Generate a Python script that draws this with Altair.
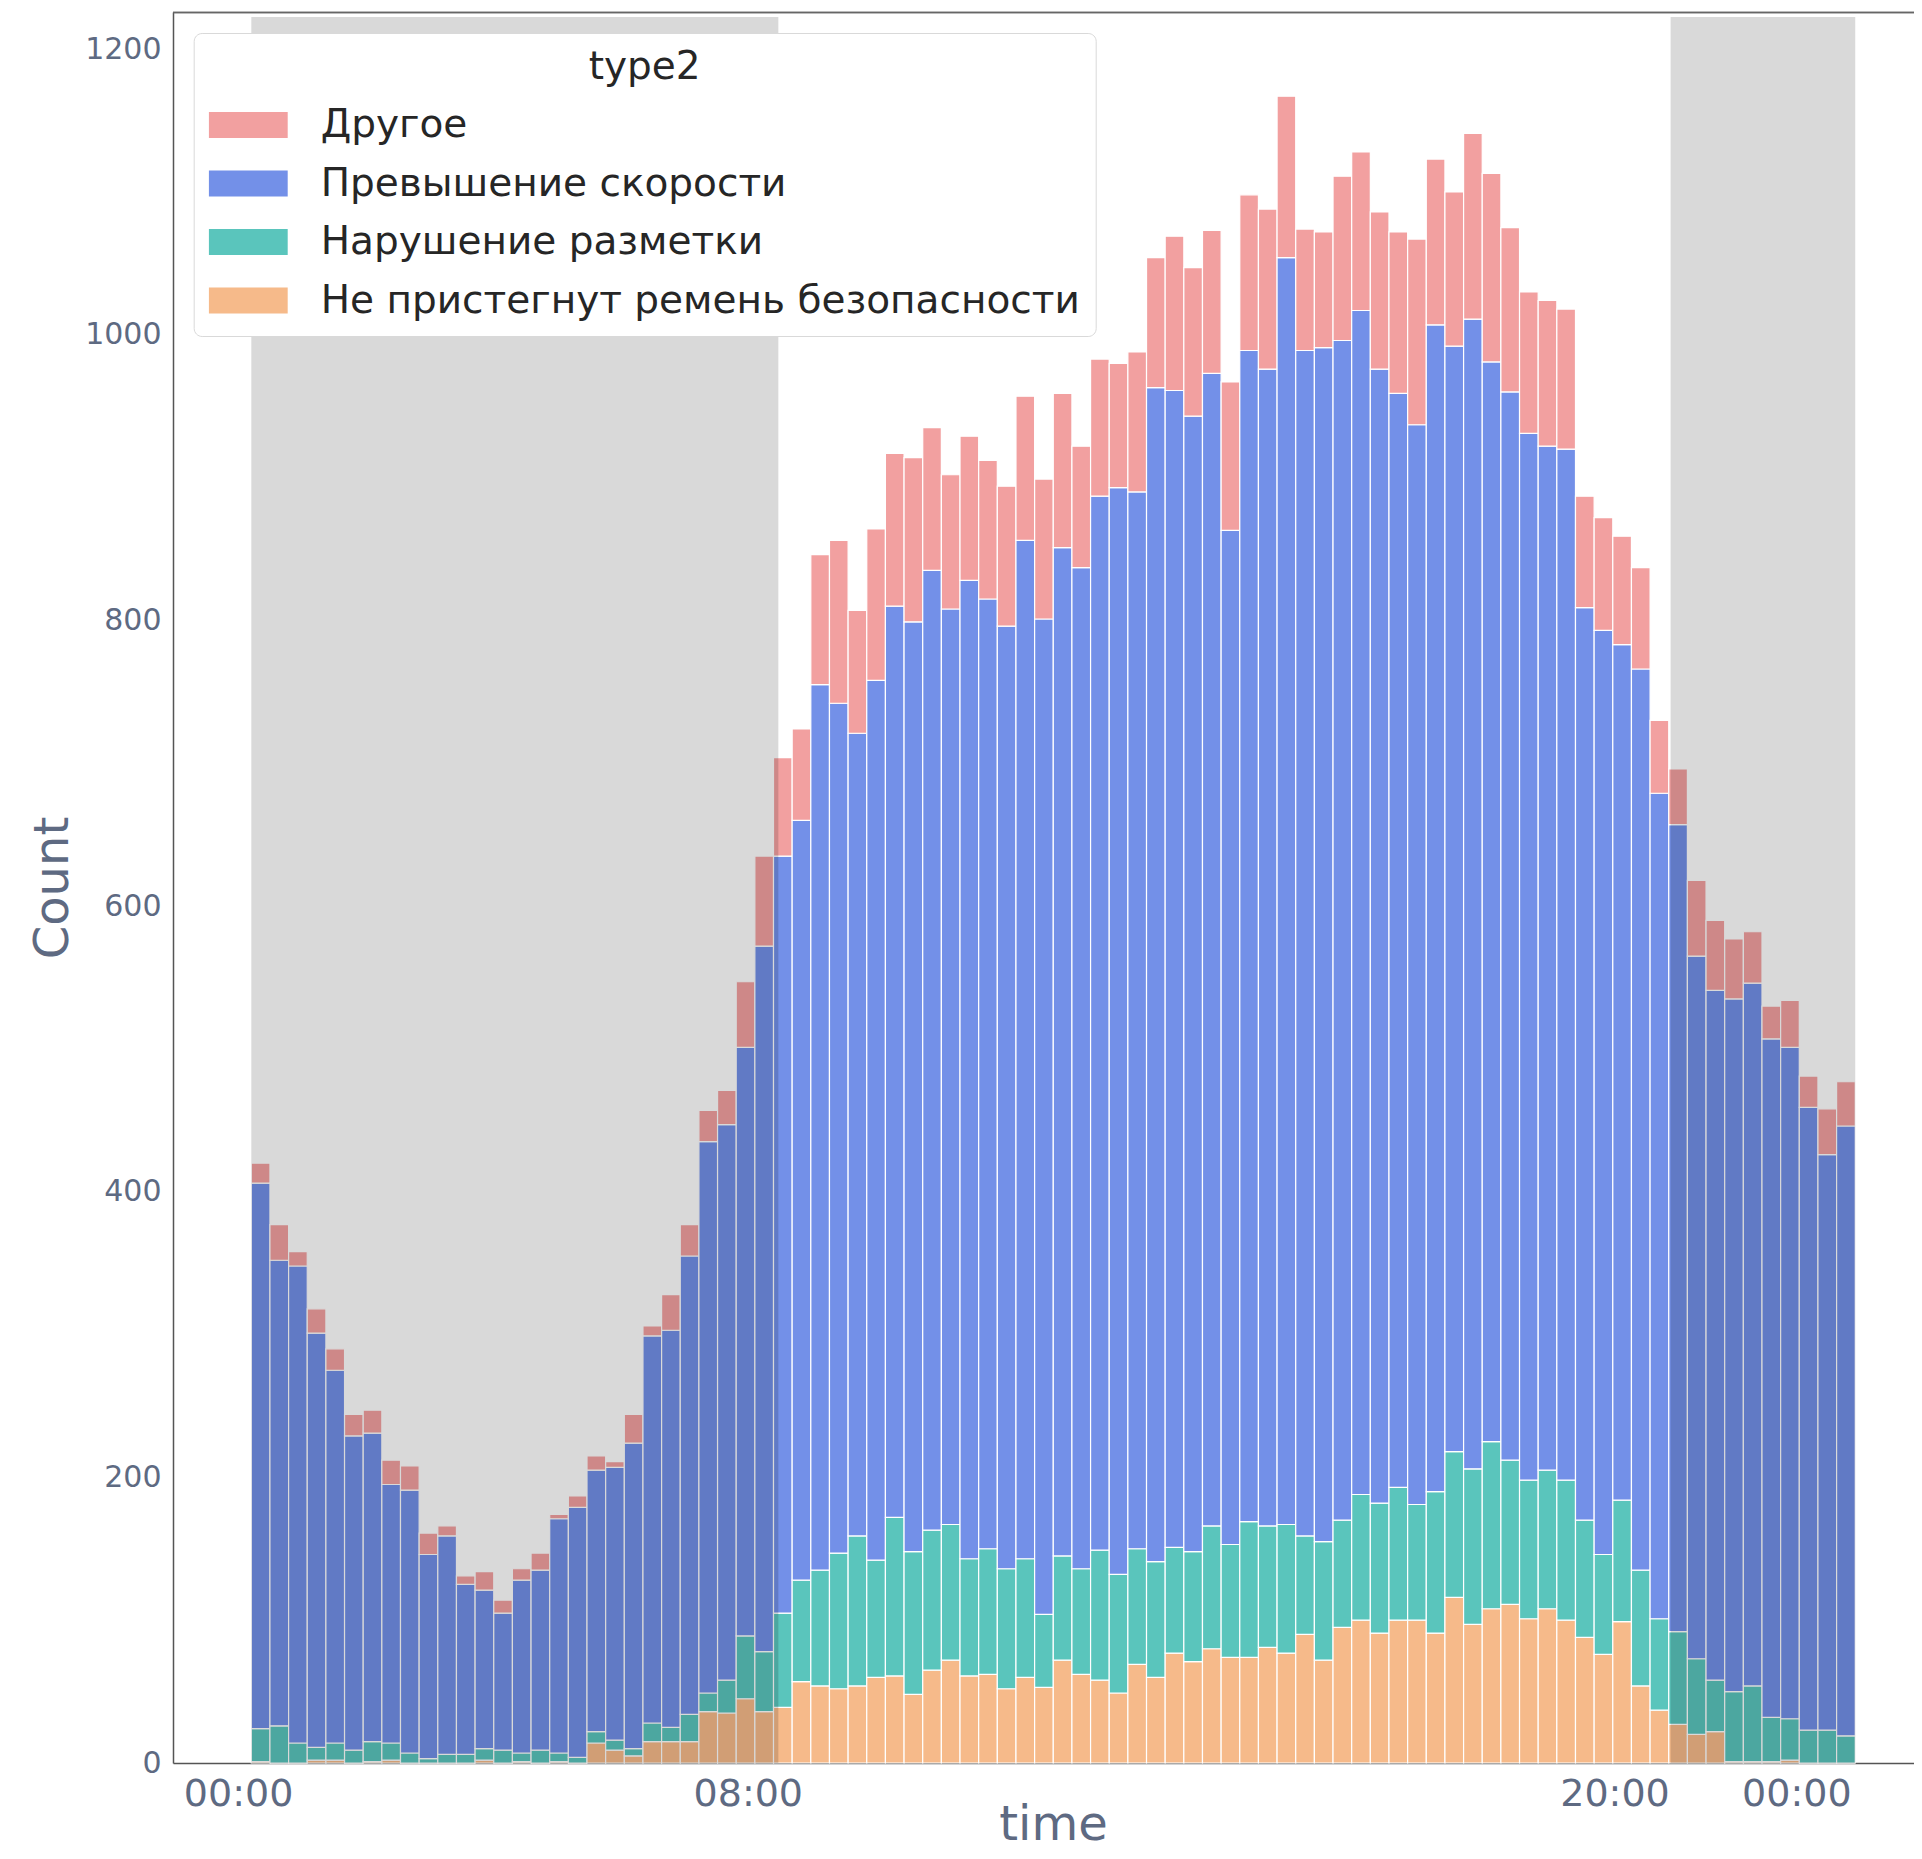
import altair as alt
import pandas as pd

# ---------------- data ----------------
categories = ["Другое", "Превышение скорости", "Нарушение разметки",
              "Не пристегнут ремень безопасности"]
colors = ["#f2a0a0", "#7390e8", "#5ac5bc", "#f6ba8a"]
# stacking order, bottom -> top
stack_order = ["Не пристегнут ремень безопасности", "Нарушение разметки",
               "Превышение скорости", "Другое"]

seatbelt = [1, 0, 0, 2, 2, 0, 1, 2, 0, 0, 0, 0, 2, 0, 1, 0, 1, 0, 14, 9, 5, 15, 15, 15,
            36, 35, 45, 36, 39, 57, 54, 52, 54, 60, 61, 48, 65, 72, 61, 62, 52, 60, 53, 72,
            62, 58, 49, 69, 60, 77, 71, 80, 74, 74, 81, 77, 90, 72, 95, 100, 91, 100, 100, 91,
            116, 97, 108, 111, 101, 108, 100, 88, 76, 99, 54, 37, 27, 20, 22, 1, 1, 1, 2, 0, 0, 0]
marking = [23, 26, 14, 9, 12, 9, 14, 12, 7, 3, 6, 6, 8, 9, 6, 9, 6, 4, 8, 7, 5, 13, 10, 19,
           13, 23, 44, 42, 66, 71, 81, 95, 105, 82, 111, 100, 98, 95, 82, 88, 84, 83, 51, 73,
           74, 91, 83, 81, 81, 74, 77, 86, 79, 95, 85, 90, 69, 83, 75, 88, 91, 93, 81, 99,
           102, 109, 117, 101, 97, 97, 98, 82, 70, 85, 81, 64, 65, 53, 36, 49, 53, 31, 29, 23, 23, 19]
speeding = [382, 326, 334, 290, 261, 220, 216, 181, 184, 143, 153, 119, 111, 96, 121, 126,
            164, 175, 183, 191, 214, 271, 278, 321, 386, 389, 412, 494, 530, 532, 620, 595,
            562, 616, 638, 651, 672, 641, 685, 665, 660, 713, 697, 706, 701, 738, 761, 740,
            822, 810, 795, 807, 710, 820, 810, 887, 830, 836, 826, 829, 794, 766, 756, 817,
            774, 805, 756, 748, 733, 717, 722, 639, 647, 599, 631, 578, 565, 492, 483, 485,
            492, 475, 470, 436, 403, 427]
other = [14, 25, 10, 17, 15, 15, 16, 17, 17, 15, 7, 6, 13, 9, 8, 12, 3, 8, 10, 4, 20, 7, 25, 22,
         22, 24, 46, 63, 69, 64, 91, 114, 86, 106, 107, 115, 100, 94, 101, 97, 98, 101, 98, 108,
         85, 96, 87, 98, 91, 108, 104, 100, 104, 109, 112, 113, 85, 81, 115, 111, 110, 113, 130, 116,
         108, 130, 132, 115, 99, 102, 98, 78, 79, 76, 71, 51, 39, 53, 49, 42, 36, 23, 33, 22, 32, 31]

# x positions of the tick labels (in bin units) and their texts
tick_positions = [-0.71, 26.62, 73.09, 82.84]
tick_labels = ["00:00", "08:00", "20:00", "00:00"]
y_ticks = [0, 200, 400, 600, 800, 1000, 1200]
# shaded night spans (bin units)
night_start = [0.0, 76.1]
night_end = [28.26, 86.0]

series = {
    "Не пристегнут ремень безопасности": seatbelt,
    "Нарушение разметки": marking,
    "Превышение скорости": speeding,
    "Другое": other,
}

rows = []
for i in range(len(seatbelt)):
    base = 0
    for cat in stack_order:
        v = series[cat][i]
        rows.append({"start": i, "end": i + 1, "type2": cat, "count": v,
                     "lo": base, "hi": base + v})
        base += v
df = pd.DataFrame(rows)
spans = pd.DataFrame({"start": night_start, "end": night_end})

# ---------------- styling ----------------
FONT = "DejaVu Sans"
AX_COL = "#5e6a82"
label_expr = " : ".join(
    f"datum.value < {(tick_positions[k] + tick_positions[k + 1]) / 2:.2f} ? '{tick_labels[k]}'"
    for k in range(len(tick_positions) - 1)
) + f" : '{tick_labels[-1]}'"

W, H = 1741, 1751
x_scale = alt.Scale(domain=[-4.198, 89.15], nice=False, zero=False)
y_scale = alt.Scale(domain=[0, 1226], nice=False)

x_axis = alt.Axis(values=tick_positions, labelExpr=label_expr, ticks=False, tickSize=0,
                  grid=False, domainColor="#555555", domainWidth=1.5,
                  labelFontSize=38, labelFont=FONT, labelColor=AX_COL, labelPadding=12,
                  labelFlush=False, labelOverlap=False,
                  titleFontSize=48, titleFont=FONT, titleColor=AX_COL,
                  titleFontWeight="normal", titlePadding=-12, titleX=880, titleAlign="center")
y_axis = alt.Axis(values=y_ticks, format="d", ticks=False, tickSize=0, grid=False,
                  domainColor="#555555", domainWidth=1.5,
                  labelFontSize=30, labelFont=FONT, labelColor=AX_COL, labelPadding=12,
                  titleFontSize=48, titleFont=FONT, titleColor=AX_COL,
                  titleFontWeight="normal", titlePadding=7)

legend = alt.Legend(title="type2", orient="none", legendX=20.7, legendY=21,
                    fillColor="white", strokeColor="#d9d9d9", cornerRadius=8, padding=15,
                    titleAnchor="middle", titleFontSize=39, titleFontWeight="normal",
                    titleFont=FONT, titleColor="#262626", titlePadding=19,
                    labelFontSize=39, labelFont=FONT, labelColor="#262626", labelLimit=1500,
                    symbolType="M-1,-0.33L1,-0.33L1,0.33L-1,0.33Z", symbolSize=6241,
                    symbolStrokeWidth=0, symbolOpacity=1, labelOffset=33,
                    rowPadding=19.5, clipHeight=38)

bars = alt.Chart(df).mark_bar(stroke="white", strokeWidth=1.2).encode(
    x=alt.X("start:Q", scale=x_scale, axis=x_axis, title="time"),
    x2="end:Q",
    y=alt.Y("lo:Q", scale=y_scale, axis=y_axis, title="Count"),
    y2="hi:Q",
    color=alt.Color("type2:N", scale=alt.Scale(domain=categories, range=colors), legend=legend),
)

shade = alt.Chart(spans).mark_rect(color="black", opacity=0.15).encode(
    x=alt.X("start:Q", title="time"),
    x2="end:Q",
    y=alt.value(5),
    y2=alt.value(H),
)

top_line = alt.Chart(spans).mark_rule(color="#666666", strokeWidth=1.5).encode(
    y=alt.value(0.5)
)

chart = alt.layer(bars, shade, top_line).properties(
    width=W, height=H,
    padding={"left": 165, "top": 4, "right": 0, "bottom": 86},
    autosize=alt.AutoSizeParams(type="none"),
    background="white",
).configure_view(stroke="transparent")

chart.save("out.html", embed_options={"renderer": "svg", "actions": False})
